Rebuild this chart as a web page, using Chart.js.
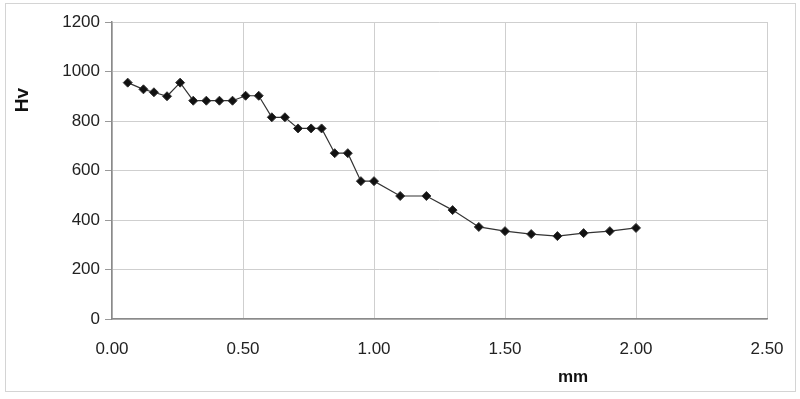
<!DOCTYPE html>
<html>
<head>
<meta charset="utf-8">
<script src="https://cdn.jsdelivr.net/npm/chart.js@4"></script>
<style>
  html, body { margin: 0; padding: 0; background: #fff; }
  #wrap { width: 800px; height: 399px; position: relative; }
</style>
</head>
<body>
<div id="wrap"><canvas id="hv-chart" width="800" height="399"></canvas></div>
<script>
// Hardness profile: depth (mm) vs Vickers hardness
const depthMm = [0.06, 0.12, 0.16, 0.21, 0.26, 0.31, 0.36, 0.41, 0.46, 0.51,
                 0.56, 0.61, 0.66, 0.71, 0.76, 0.80, 0.85, 0.90, 0.95, 1.00,
                 1.10, 1.20, 1.30, 1.40, 1.50, 1.60, 1.70, 1.80, 1.90, 2.00];
const hardnessHv = [955, 928, 916, 900, 955, 882, 882, 882, 882, 902,
                    902, 815, 815, 770, 770, 770, 670, 670, 557, 557,
                    497, 497, 440, 372, 355, 343, 335, 347, 355, 368];
const yTicks = [0, 200, 400, 600, 800, 1000, 1200];
const xTicks = [0, 0.5, 1.0, 1.5, 2.0, 2.5];

const points = depthMm.map((x, i) => ({ x: x, y: hardnessHv[i] }));
const FONT = '"Liberation Sans", Arial, sans-serif';

// Axis titles and outer frame, placed like the original spreadsheet chart
const decorations = {
    id: 'decorations',
    afterDraw(chart) {
        const ctx = chart.ctx;
        ctx.save();
        ctx.strokeStyle = '#d4d4d4';
        ctx.lineWidth = 1;
        ctx.strokeRect(5.5, 3.5, 790, 388);

        ctx.fillStyle = '#111';
        ctx.font = 'bold 17px ' + FONT;
        ctx.textAlign = 'center';
        ctx.textBaseline = 'middle';
        ctx.fillText('mm', 573, 377);

        ctx.font = 'bold 19px ' + FONT;
        ctx.translate(23, 100);
        ctx.rotate(-Math.PI / 2);
        ctx.fillText('Hv', 0, 0);
        ctx.restore();
    }
};

new Chart(document.getElementById('hv-chart'), {
    type: 'scatter',
    data: {
        datasets: [{
            data: points,
            showLine: true,
            borderColor: '#333',
            borderWidth: 1.2,
            backgroundColor: '#111',
            pointStyle: 'rectRot',
            pointRadius: 4.5,
            pointBorderWidth: 1,
            tension: 0
        }]
    },
    options: {
        responsive: false,
        animation: false,
        layout: { padding: { left: 0, right: 33, top: 22, bottom: 0 } },
        plugins: {
            legend: { display: false },
            tooltip: { enabled: false }
        },
        scales: {
            x: {
                type: 'linear',
                min: 0,
                max: 2.5,
                afterBuildTicks: (scale) => { scale.ticks = xTicks.map(v => ({ value: v })); },
                afterFit: (scale) => { scale.height = 80; },
                ticks: {
                    color: '#222',
                    padding: 14,
                    font: { family: FONT, size: 17 },
                    callback: (v) => Number(v).toFixed(2)
                },
                grid: { color: '#cfcfcf', tickLength: 6, tickColor: '#fff' },
                border: { color: '#8a8a8a', width: 1.5 }
            },
            y: {
                min: 0,
                max: 1200,
                afterBuildTicks: (scale) => { scale.ticks = yTicks.map(v => ({ value: v })); },
                afterFit: (scale) => { scale.width = 112; },
                ticks: {
                    color: '#222',
                    padding: 5,
                    font: { family: FONT, size: 17 },
                    callback: (v) => String(v)
                },
                grid: { color: '#cfcfcf', tickLength: 7, tickColor: '#999' },
                border: { color: '#8a8a8a', width: 1.5 }
            }
        }
    },
    plugins: [decorations]
});
</script>
</body>
</html>
